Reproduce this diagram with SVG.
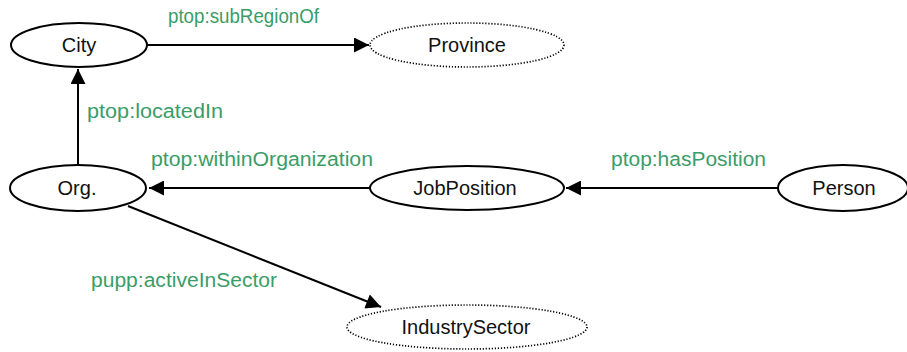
<svg xmlns="http://www.w3.org/2000/svg" width="907" height="352" viewBox="0 0 907 352">
  <defs>
    <marker id="arrow" viewBox="0 0 10 10" refX="10" refY="5" markerWidth="9" markerHeight="7.5" markerUnits="strokeWidth" orient="auto">
      <path d="M0,0 L10,5 L0,10 Z" fill="#000"/>
    </marker>
    <style>
      .node { fill: #fff; stroke: #000; stroke-width: 2; }
      .dotted { fill: #fff; stroke: #000; stroke-width: 1.7; stroke-dasharray: 1.2 1.8; }
      .name { font-family: "Liberation Sans", Arial, sans-serif; font-size: 20px; fill: #111; text-anchor: middle; }
      .edge { stroke: #000; stroke-width: 2; fill: none; marker-end: url(#arrow); }
      .prop { font-family: "Liberation Sans", Arial, sans-serif; font-size: 20px; fill: #3a9d68; }
    </style>
  </defs>

  <g id="connectors">
    <line class="edge" x1="148" y1="45" x2="369" y2="45"/>
    <line class="edge" x1="78" y1="165" x2="78" y2="69"/>
    <line class="edge" x1="370" y1="188" x2="149" y2="188"/>
    <line class="edge" x1="778" y1="188" x2="566" y2="188"/>
    <line class="edge" x1="128" y1="206" x2="381" y2="307"/>
    <text class="prop" x="168" y="23" textLength="151" lengthAdjust="spacingAndGlyphs">ptop:subRegionOf</text>
    <text class="prop" x="87" y="118" textLength="136" lengthAdjust="spacingAndGlyphs">ptop:locatedIn</text>
    <text class="prop" x="151" y="166" textLength="222" lengthAdjust="spacingAndGlyphs">ptop:withinOrganization</text>
    <text class="prop" x="611" y="166" textLength="155" lengthAdjust="spacingAndGlyphs">ptop:hasPosition</text>
    <text class="prop" x="91" y="287" textLength="186" lengthAdjust="spacingAndGlyphs">pupp:activeInSector</text>
  </g>

  <g id="city">
    <ellipse class="node" cx="79" cy="45" rx="68" ry="22"/>
    <text class="name" x="79" y="52">City</text>
  </g>
  <g id="province">
    <ellipse class="dotted" cx="467" cy="45" rx="97" ry="22"/>
    <text class="name" x="467" y="52">Province</text>
  </g>
  <g id="org">
    <ellipse class="node" cx="78" cy="188" rx="68" ry="23"/>
    <text class="name" x="77" y="195">Org.</text>
  </g>
  <g id="jobposition">
    <ellipse class="node" cx="467" cy="188" rx="97" ry="22"/>
    <text class="name" x="465" y="195">JobPosition</text>
  </g>
  <g id="person">
    <ellipse class="node" cx="843" cy="188" rx="65" ry="23"/>
    <text class="name" x="844" y="195">Person</text>
  </g>
  <g id="industrysector">
    <ellipse class="dotted" cx="467" cy="327" rx="120" ry="22"/>
    <text class="name" x="466" y="334">IndustrySector</text>
  </g>
</svg>
